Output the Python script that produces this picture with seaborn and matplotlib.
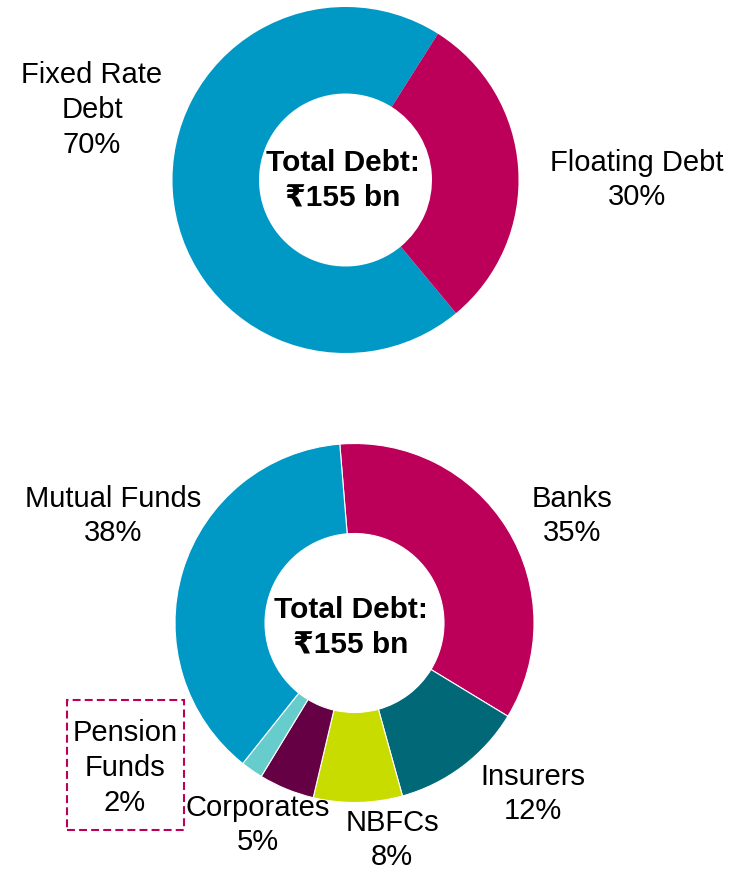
import matplotlib
matplotlib.use("Agg")
import matplotlib.pyplot as plt
import seaborn as sns
from matplotlib.patches import Rectangle

W, H = 740, 872

# Top donut: debt split by rate type
rate_labels = ["Fixed Rate\nDebt", "Floating Debt"]
rate_shares = [70, 30]
rate_colors = ["#0099C6", "#BC005A"]

# Bottom donut: debt split by holder (clockwise from the top)
holder_labels = ["Banks", "Insurers", "NBFCs", "Corporates", "Pension\nFunds", "Mutual Funds"]
holder_shares = [35, 12, 8, 5, 2, 38]
holder_colors = ["#BC005A", "#006877", "#C9DC00", "#660044", "#66CCCC", "#0099C6"]

total_text = "Total Debt:\n₹155 bn"


def px(x, y):
    # image pixel coords (y down) -> axes data coords (y up)
    return x, H - y


def main():
    sns.set_theme(style="white")
    plt.rcParams["font.family"] = ["Liberation Sans", "DejaVu Sans"]

    fig = plt.figure(figsize=(W / 100, H / 100), dpi=100)
    ax = fig.add_axes([0, 0, 1, 1])

    label_kw = dict(ha="center", va="center", fontsize=21, color="black", linespacing=1.3)
    total_kw = dict(ha="center", va="center", fontsize=21.5, fontweight="bold",
                    color="black", linespacing=1.3)

    # --- top donut ---
    ax.pie(rate_shares, colors=rate_colors, startangle=-50.3, counterclock=False,
           center=px(345.5, 180), radius=173,
           wedgeprops=dict(width=86.5, linewidth=0))
    rate_pos = [(92, 110), (637, 180)]
    for lab, share, (x, y) in zip(rate_labels, rate_shares, rate_pos):
        ax.text(*px(x, y), f"{lab}\n{share}%", **label_kw)
    ax.text(*px(343, 180), total_text, **total_kw)

    # --- bottom donut ---
    ax.pie(holder_shares, colors=holder_colors, startangle=94.7, counterclock=False,
           center=px(354.5, 623), radius=179.5,
           wedgeprops=dict(width=90, linewidth=0.8, edgecolor="white"))
    holder_pos = [(572, 516), (533, 794), (392, 840), (258, 825), (125, 768), (113, 516)]
    for lab, share, (x, y) in zip(holder_labels, holder_shares, holder_pos):
        ax.text(*px(x, y), f"{lab}\n{share}%", **label_kw)
    ax.text(*px(351, 627), total_text, **total_kw)

    # dashed box around the smallest slice's label
    ax.add_patch(Rectangle(px(67, 830), 117, 130, fill=False, edgecolor="#BC005A",
                           linewidth=1.5, linestyle=(0, (3.8, 2))))

    ax.set_xlim(0, W)
    ax.set_ylim(0, H)
    ax.set_aspect("equal")
    ax.axis("off")

    fig.savefig("out.png", dpi=100, facecolor="white")
    plt.close(fig)


if __name__ == "__main__":
    main()
